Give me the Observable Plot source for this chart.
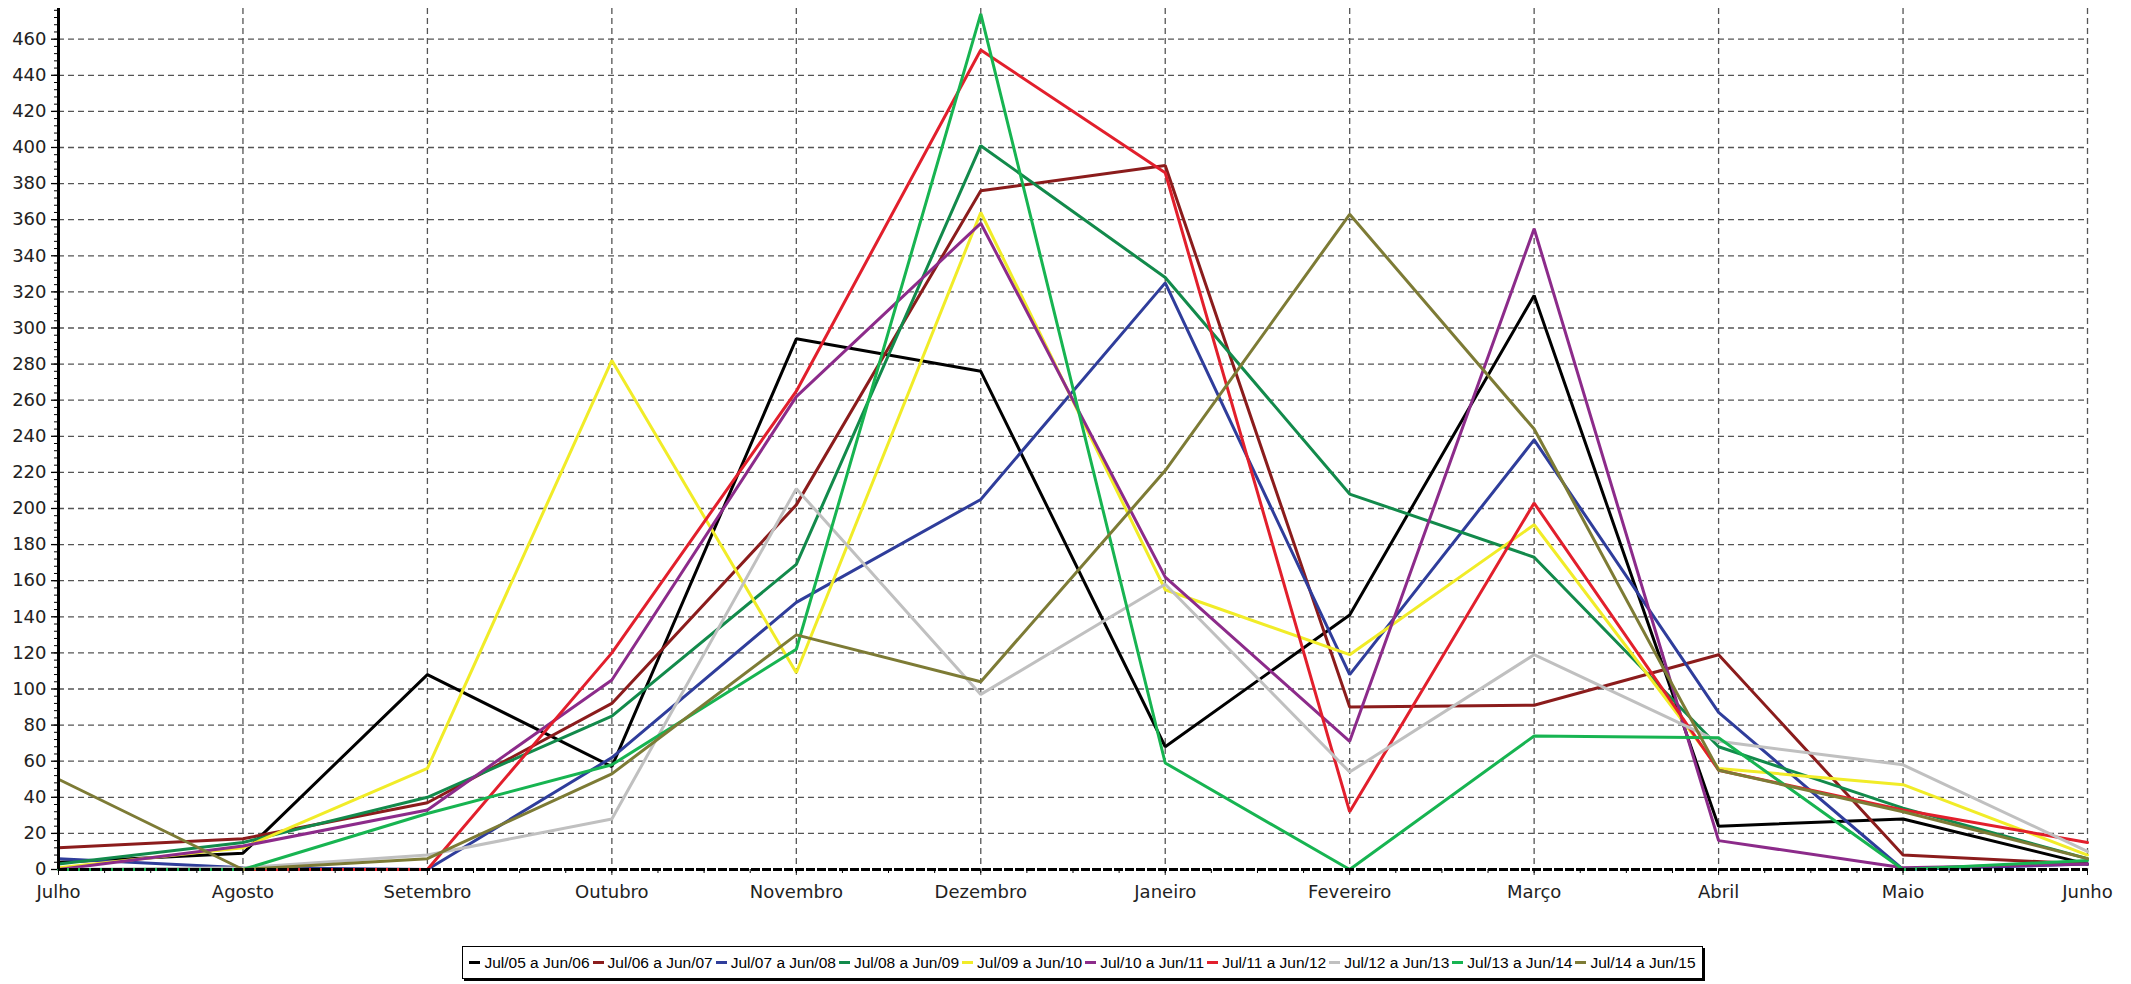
<!DOCTYPE html>
<html>
<head>
<meta charset="utf-8">
<script src="https://cdn.jsdelivr.net/npm/d3@7"></script>
<script src="https://cdn.jsdelivr.net/npm/@observablehq/plot@0.6"></script>
<style>
  html, body { margin: 0; padding: 0; background: #fff; }
  #chart { position: absolute; left: 0; top: 0; }
  #legend {
    position: absolute; left: 462px; top: 946px; width: 1239px; height: 31px;
    border: 1px solid #000; box-shadow: 2px 2px 0 #000; background: #fff;
    display: flex; align-items: center; justify-content: center;
    font-family: "Liberation Sans", Arial, sans-serif; font-size: 15.5px; color: #000;
  }
  .item { display: flex; align-items: center; margin: 0 1.5px; white-space: nowrap; }
  .sw { width: 11px; height: 3px; margin-right: 4px; }
</style>
</head>
<body>
<div id="chart"></div>
<div id="legend"></div>
<script>
const months = ["Julho","Agosto","Setembro","Outubro","Novembro","Dezembro","Janeiro","Fevereiro","Março","Abril","Maio","Junho"];
const seasons = ["Jul/05 a Jun/06","Jul/06 a Jun/07","Jul/07 a Jun/08","Jul/08 a Jun/09","Jul/09 a Jun/10","Jul/10 a Jun/11","Jul/11 a Jun/12","Jul/12 a Jun/13","Jul/13 a Jun/14","Jul/14 a Jun/15"];
const colors = ["#000000","#8b1c1c","#2f3d9b","#128a4b","#f1ec28","#8c2b8a","#e21f2c","#c0c0c0","#17b451","#7d7b35"];

const v0506 = [4, 9, 108, 57, 294, 276, 68, 141, 318, 24, 28, 3];
const v0607 = [12, 17, 37, 92, 202, 376, 390, 90, 91, 119, 8, 3];
const v0708 = [6, 1, 0, 62, 148, 205, 325, 108, 238, 87, 0, 3];
const v0809 = [3, 15, 40, 85, 169, 401, 328, 208, 173, 68, 34, 6];
const v0910 = [1, 12, 56, 282, 109, 364, 155, 119, 191, 56, 47, 8];
const v1011 = [0, 13, 33, 105, 262, 358, 162, 71, 355, 16, 1, 3];
const v1112 = [0, 0, 0, 120, 265, 454, 386, 32, 203, 55, 33, 15];
const v1213 = [0, 1, 8, 28, 211, 97, 158, 54, 119, 71, 58, 10];
const v1314 = [0, 0, 31, 58, 122, 474, 59, 0, 74, 73, 0, 5];
const v1415 = [50, 0, 6, 53, 130, 104, 221, 363, 244, 55, 32, 6];

const yTicks = d3.range(0, 461, 20);

const allValues = [v0506, v0607, v0708, v0809, v0910, v1011, v1112, v1213, v1314, v1415];
const data = [];
allValues.forEach((arr, s) => arr.forEach((v, i) => data.push({season: seasons[s], m: i, v})));

const gridStyle = {stroke: "#555", strokeOpacity: 1, strokeWidth: 1.3, strokeDasharray: "6,4"};

const chart = Plot.plot({
  width: 2131, height: 915,
  marginLeft: 58, marginRight: 44, marginTop: 8, marginBottom: 46,
  style: {background: "#fff", fontFamily: "DejaVu Sans, sans-serif"},
  x: {type: "linear", domain: [0, months.length - 1], label: null},
  y: {domain: [0, 477], label: null},
  color: {domain: seasons, range: colors},
  marks: [
    Plot.gridX(d3.range(1, months.length), gridStyle),
    Plot.gridY(yTicks.slice(1), gridStyle),
    Plot.axisY(yTicks, {tickSize: 7, tickPadding: 5, fontSize: 18, stroke: "#000", strokeWidth: 1.3, color: "#222", label: null}),
    Plot.axisY(d3.range(0, 477, 4), {tickSize: 4, tickFormat: () => "", stroke: "#000", strokeWidth: 1, label: null}),
    Plot.axisX(d3.range(0, months.length), {tickSize: 6, tickPadding: 10, fontSize: 18, tickFormat: i => months[i], color: "#222", label: null}),
    Plot.axisX(d3.range(0, 11.01, 0.25), {tickSize: 4, tickFormat: () => "", label: null}),
    Plot.line(data, {x: "m", y: "v", z: "season", stroke: "season", strokeWidth: 3, strokeLinejoin: "miter"}),
    Plot.ruleX([0], {stroke: "#000", strokeWidth: 3}),
    Plot.ruleY([0], {stroke: "#000", strokeWidth: 3, strokeDasharray: "9,2"})
  ]
});
document.getElementById("chart").appendChild(chart);

const legend = document.getElementById("legend");
seasons.forEach((s, i) => {
  const it = document.createElement("div");
  it.className = "item";
  const sw = document.createElement("span");
  sw.className = "sw";
  sw.style.background = colors[i];
  it.appendChild(sw);
  const t = document.createElement("span");
  t.textContent = s;
  it.appendChild(t);
  legend.appendChild(it);
});
</script>
</body>
</html>
